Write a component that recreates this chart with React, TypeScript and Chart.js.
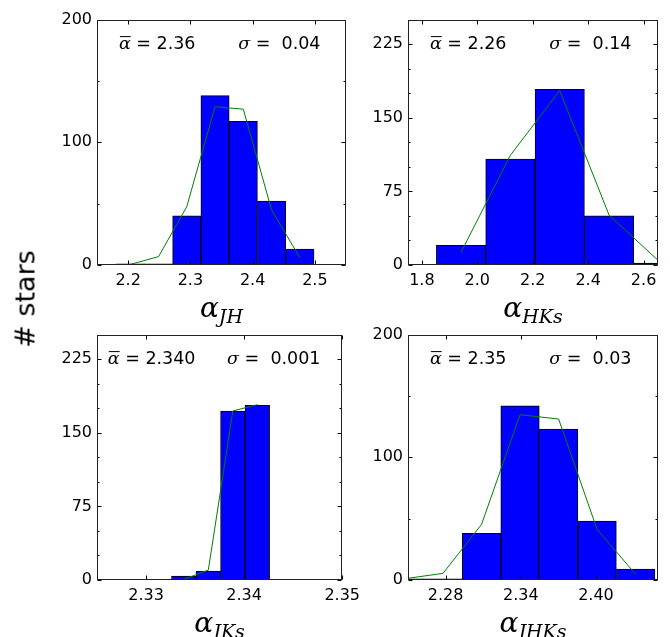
import { useEffect, useRef } from 'react'
import { Chart, registerables } from 'chart.js'

Chart.register(...registerables)
Chart.defaults.font.family = '"DejaVu Sans", sans-serif'

// --- alpha_JH ---
const jhBinCenters = [2.2034, 2.2488, 2.2942, 2.3396, 2.385, 2.4305, 2.4759]
const jhCounts = [1, 1, 40, 138, 117, 52, 13]
const jhFitX = [2.158, 2.2034, 2.2488, 2.2942, 2.3396, 2.385, 2.4305, 2.4759]
const jhFitY = [0, 0.5, 6.8, 47.5, 129, 127, 44.8, 6]
const jhXTicks = [2.2, 2.3, 2.4, 2.5]
const jhXTickLabels = ['2.2', '2.3', '2.4', '2.5']
const jhYTicks = [0, 100, 200]
const jhYMinor = [50, 150]

// --- alpha_HKs ---
const hksBinCenters = [1.9414, 2.1194, 2.2975, 2.4755, 2.6535]
const hksCounts = [20, 108, 179, 50, 2]
const hksFitX = [1.9414, 2.1194, 2.2975, 2.4755, 2.6535]
const hksFitY = [12.9, 111.8, 177.6, 50.8, 4.4]
const hksXTicks = [1.8, 2.0, 2.2, 2.4, 2.6]
const hksXTickLabels = ['1.8', '2.0', '2.2', '2.4', '2.6']
const hksYTicks = [0, 75, 150, 225]
const hksYMinor = [25, 50, 100, 125, 175, 200]

// --- alpha_JKs ---
const jksBinCenters = [2.33385, 2.33635, 2.33885, 2.34135]
const jksCounts = [4, 9, 172, 178]
const jksFitX = [2.33385, 2.33635, 2.33885, 2.34135]
const jksFitY = [0.7, 10.1, 172.2, 178.6]
const jksXTicks = [2.33, 2.34, 2.35]
const jksXTickLabels = ['2.33', '2.34', '2.35']
const jksYTicks = [0, 75, 150, 225]
const jksYMinor = [25, 50, 100, 125, 175, 200]

// --- alpha_JHKs ---
const jhksBinCenters = [2.2472, 2.2779, 2.3087, 2.3394, 2.3702, 2.4009, 2.4317]
const jhksCounts = [1, 1, 38, 142, 123, 48, 9]
const jhksFitX = [2.2472, 2.2779, 2.3087, 2.3394, 2.3702, 2.4009, 2.4317]
const jhksFitY = [1, 5.4, 45.3, 134.7, 131.2, 41.2, 4.6]
const jhksXTicks = [2.28, 2.34, 2.4]
const jhksXTickLabels = ['2.28', '2.34', '2.40']
const jhksYTicks = [0, 100, 200]
const jhksYMinor = [50, 150]

const AX_W = 60
const AX_H = 72
const PAD_T = 14
const PAD_R = 20

type Panel = {
  centers: number[]
  counts: number[]
  fitX: number[]
  fitY: number[]
  xMin: number
  xMax: number
  yMax: number
  xTicks: number[]
  xLabels: string[]
  yTicks: number[]
  yMinor: number[]
  mean: string
  sigma: string
  sub: string
  plot: { left: number; top: number; right: number; bottom: number }
}

const panels: Panel[] = [
  {
    centers: jhBinCenters, counts: jhCounts, fitX: jhFitX, fitY: jhFitY,
    xMin: 2.15, xMax: 2.55, yMax: 200,
    xTicks: jhXTicks, xLabels: jhXTickLabels, yTicks: jhYTicks, yMinor: jhYMinor,
    mean: '2.36', sigma: '0.04', sub: 'JH',
    plot: { left: 97, top: 19, right: 346, bottom: 265 },
  },
  {
    centers: hksBinCenters, counts: hksCounts, fitX: hksFitX, fitY: hksFitY,
    xMin: 1.75, xMax: 2.652, yMax: 250,
    xTicks: hksXTicks, xLabels: hksXTickLabels, yTicks: hksYTicks, yMinor: hksYMinor,
    mean: '2.26', sigma: '0.14', sub: 'HKs',
    plot: { left: 408, top: 19, right: 658, bottom: 265 },
  },
  {
    centers: jksBinCenters, counts: jksCounts, fitX: jksFitX, fitY: jksFitY,
    xMin: 2.325, xMax: 2.35, yMax: 250,
    xTicks: jksXTicks, xLabels: jksXTickLabels, yTicks: jksYTicks, yMinor: jksYMinor,
    mean: '2.340', sigma: '0.001', sub: 'JKs',
    plot: { left: 97, top: 334, right: 346, bottom: 580 },
  },
  {
    centers: jhksBinCenters, counts: jhksCounts, fitX: jhksFitX, fitY: jhksFitY,
    xMin: 2.25, xMax: 2.4495, yMax: 200,
    xTicks: jhksXTicks, xLabels: jhksXTickLabels, yTicks: jhksYTicks, yMinor: jhksYMinor,
    mean: '2.35', sigma: '0.03', sub: 'JHKs',
    plot: { left: 408, top: 334, right: 658, bottom: 580 },
  },
]

const SERIF_I = (px: number) => `italic ${px}px "DejaVu Serif", serif`
const SANS = (px: number) => `${px}px "DejaVu Sans", sans-serif`

type Run = { t: string; f: string; over?: boolean; dy?: number }

function drawRuns(ctx: CanvasRenderingContext2D, runs: Run[], x0: number, y: number, align: 'right' | 'center') {
  ctx.textBaseline = 'alphabetic'
  ctx.textAlign = 'left'
  let total = 0
  runs.forEach(r => { ctx.font = r.f; total += ctx.measureText(r.t).width })
  let x = align === 'right' ? x0 - total : x0 - total / 2
  runs.forEach(r => {
    ctx.font = r.f
    const w = ctx.measureText(r.t).width
    ctx.fillText(r.t, x, y + (r.dy || 0))
    if (r.over) {
      ctx.beginPath()
      ctx.moveTo(x + 1, y - 12.5)
      ctx.lineTo(x + w, y - 12.5)
      ctx.stroke()
    }
    x += w
  })
}

function HistPanel({ p }: { p: Panel }) {
  const canvasRef = useRef<HTMLCanvasElement>(null)

  useEffect(() => {
    if (!canvasRef.current) return
    const ctx = canvasRef.current.getContext('2d')
    if (!ctx) return

    const decor = {
      id: 'decor',
      afterDraw(chart: any) {
        const c = chart.ctx as CanvasRenderingContext2D
        const a = chart.chartArea
        const xs = chart.scales.x
        const ys = chart.scales.y
        const L = Math.round(a.left) + 0.5
        const R = Math.round(a.right) - 0.5
        const T = Math.round(a.top) + 0.5
        const B = Math.round(a.bottom) - 0.5
        c.save()
        c.strokeStyle = '#000'
        c.fillStyle = '#000'
        c.lineWidth = 1
        c.beginPath()
        p.xTicks.forEach(v => {
          const x = Math.round(xs.getPixelForValue(v)) + 0.5
          c.moveTo(x, B); c.lineTo(x, B - 4)
          c.moveTo(x, T); c.lineTo(x, T + 4)
        })
        p.yTicks.forEach(v => {
          const y = Math.round(ys.getPixelForValue(v)) + 0.5
          c.moveTo(L, y); c.lineTo(L + 4, y)
          c.moveTo(R, y); c.lineTo(R - 4, y)
        })
        p.yMinor.forEach(v => {
          const y = Math.round(ys.getPixelForValue(v)) + 0.5
          c.moveTo(L, y); c.lineTo(L + 2, y)
          c.moveTo(R, y); c.lineTo(R - 2, y)
        })
        c.stroke()
        c.strokeStyle = '#222'
        c.strokeRect(L, T, R - L, B - T)
        c.strokeStyle = '#000'

        const base = a.top + 29.5
        drawRuns(c, [
          { t: 'α', f: SERIF_I(17.5), over: true },
          { t: ' = ' + p.mean, f: SANS(17.5) },
        ], a.left + 98.5, base, 'right')
        drawRuns(c, [
          { t: 'σ', f: SERIF_I(17.5) },
          { t: ' =  ' + p.sigma, f: SANS(17.5) },
        ], a.left + 223.5, base, 'right')

        drawRuns(c, [
          { t: 'α', f: SERIF_I(28) },
          { t: p.sub, f: SERIF_I(19), dy: 6.5 },
        ], (a.left + a.right) / 2, a.bottom + 51.8, 'center')
        c.restore()
      },
    }

    const chart = new Chart(ctx, {
      type: 'bar',
      data: {
        datasets: [
          {
            type: 'line',
            data: p.fitX.map((x, i) => ({ x, y: p.fitY[i] })),
            borderColor: '#008000',
            borderWidth: 1,
            pointRadius: 0,
            tension: 0,
            fill: false,
            order: 0,
            clip: 0,
          } as any,
          {
            type: 'bar',
            data: p.centers.map((x, i) => ({ x, y: p.counts[i] })),
            backgroundColor: '#0000ff',
            borderColor: '#000000',
            borderWidth: 1,
            barPercentage: 1,
            categoryPercentage: 1,
            order: 1,
            clip: 0,
          } as any,
        ],
      },
      options: {
        animation: false,
        responsive: true,
        maintainAspectRatio: false,
        layout: { padding: { left: 0, top: PAD_T, right: PAD_R, bottom: 0 } },
        plugins: { legend: { display: false }, tooltip: { enabled: false } },
        scales: {
          x: {
            type: 'linear',
            min: p.xMin,
            max: p.xMax,
            offset: false,
            grid: { display: false, drawTicks: false, offset: false },
            border: { display: false },
            afterBuildTicks: (s: any) => { s.ticks = p.xTicks.map(value => ({ value })) },
            afterFit: (s: any) => { s.height = AX_H },
            ticks: {
              autoSkip: false,
              maxRotation: 0,
              padding: 6,
              color: '#000',
              font: { size: 16 },
              callback: (_v: any, i: number) => p.xLabels[i],
            },
          },
          y: {
            type: 'linear',
            min: 0,
            max: p.yMax,
            grid: { display: false, drawTicks: false },
            border: { display: false },
            afterBuildTicks: (s: any) => { s.ticks = p.yTicks.map(value => ({ value })) },
            afterFit: (s: any) => { s.width = AX_W },
            ticks: {
              autoSkip: false,
              padding: 5,
              color: '#000',
              font: { size: 16 },
              callback: (v: any) => String(v),
            },
          },
        },
      } as any,
      plugins: [decor],
    })

    return () => chart.destroy()
  }, [p])

  const box = {
    left: p.plot.left - AX_W,
    top: p.plot.top - PAD_T,
    width: p.plot.right - p.plot.left + AX_W + PAD_R,
    height: p.plot.bottom - p.plot.top + PAD_T + AX_H,
  }

  return (
    <div style={{ position: 'absolute', ...box }}>
      <canvas ref={canvasRef}></canvas>
    </div>
  )
}

export default function App() {
  return (
    <div style={{ position: 'absolute', left: 0, top: 0, width: 670, height: 637, overflow: 'hidden', background: '#fff' }}>
      {panels.map((p, i) => <HistPanel key={i} p={p} />)}
      <div
        style={{
          position: 'absolute',
          left: 25,
          top: 299,
          transform: 'translate(-50%, -50%) rotate(-90deg)',
          whiteSpace: 'nowrap',
          font: '27px "DejaVu Sans", sans-serif',
          color: '#000',
        }}
      >
        # stars
      </div>
    </div>
  )
}
